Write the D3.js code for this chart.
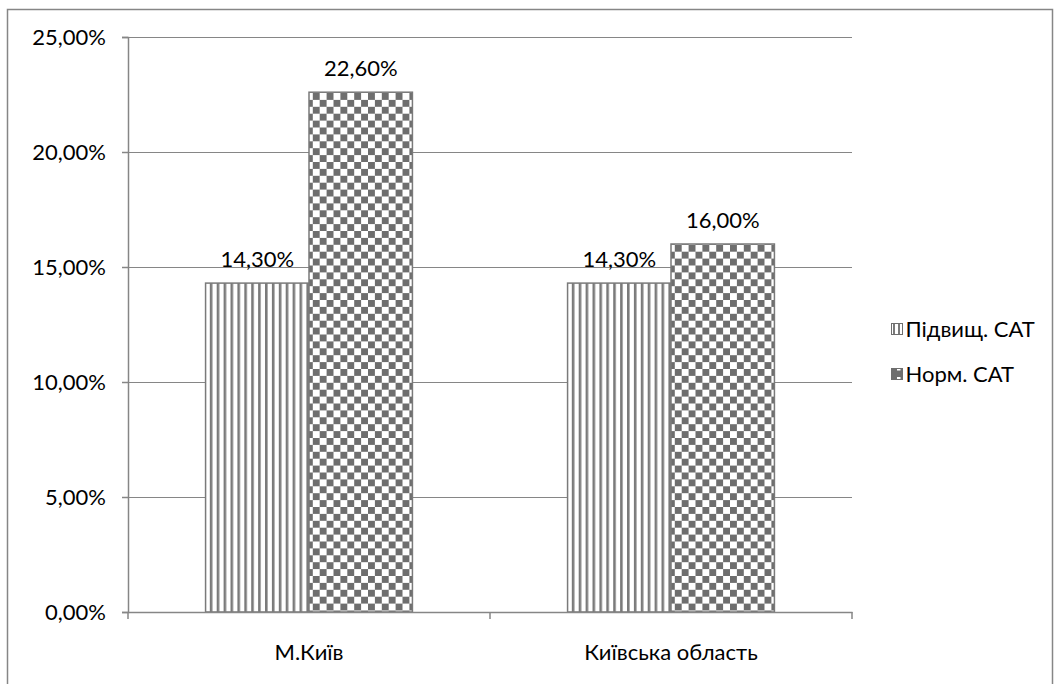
<!DOCTYPE html>
<html>
<head>
<meta charset="utf-8">
<script src="https://cdn.jsdelivr.net/npm/d3@7"></script>
<style>
  html, body { margin: 0; padding: 0; background: #fff; }
  svg { display: block; }
  text { font-family: Lato, "Open Sans", sans-serif; fill: #000; }
</style>
</head>
<body>
<svg id="chart" width="1055" height="684"></svg>
<script>
// Share of patients by blood pressure group, per region
const categories = ["М.Київ", "Київська область"];
const seriesNames = ["Підвищ. САТ", "Норм. САТ"];
const raisedValues = [14.3, 14.3];
const normalValues = [22.6, 16.0];
const yTickValues = [0, 5, 10, 15, 20, 25];

const W = 1055, H = 684;
const plot = { left: 128, right: 852, top: 37, bottom: 612 };
const FONT = 22;
const GRAY = "#868686";

const svg = d3.select("#chart");

// outer chart frame
svg.append("rect")
  .attr("x", 7.5).attr("y", 9.5)
  .attr("width", 1045).attr("height", 720)
  .attr("fill", "#fff").attr("stroke", GRAY).attr("stroke-width", 1.5);

// fill patterns
const defs = svg.append("defs");
const vp = defs.append("pattern").attr("id", "pat-vert")
  .attr("patternUnits", "userSpaceOnUse").attr("width", 6.9).attr("height", 10)
  .attr("x", 206);
vp.append("rect").attr("width", 6.9).attr("height", 10).attr("fill", "#fff");
vp.append("rect").attr("x", 0).attr("width", 2.6).attr("height", 10).attr("fill", "#7a7a7a");

const cp = defs.append("pattern").attr("id", "pat-check")
  .attr("patternUnits", "userSpaceOnUse").attr("width", 13.8).attr("height", 13.8)
  .attr("x", 309).attr("y", 93);
cp.append("rect").attr("width", 13.8).attr("height", 13.8).attr("fill", "#fff");
cp.append("rect").attr("x", 0).attr("y", 0).attr("width", 6.9).attr("height", 6.9).attr("fill", "#6e6e6e");
cp.append("rect").attr("x", 6.9).attr("y", 6.9).attr("width", 6.9).attr("height", 6.9).attr("fill", "#6e6e6e");

// small versions for the legend keys
const vpl = defs.append("pattern").attr("id", "pat-vert-sm")
  .attr("patternUnits", "userSpaceOnUse").attr("width", 5).attr("height", 5).attr("x", 891.5);
vpl.append("rect").attr("width", 5).attr("height", 5).attr("fill", "#fff");
vpl.append("rect").attr("width", 2).attr("height", 5).attr("fill", "#7a7a7a");
const cpl = defs.append("pattern").attr("id", "pat-check-sm")
  .attr("patternUnits", "userSpaceOnUse").attr("width", 11).attr("height", 11).attr("x", 891.5).attr("y", 368.5);
cpl.append("rect").attr("width", 11).attr("height", 11).attr("fill", "#6e6e6e");
cpl.append("rect").attr("x", 5).attr("y", 3).attr("width", 3.5).attr("height", 4.5).attr("fill", "#fff");

const fills = ["url(#pat-vert)", "url(#pat-check)"];
const legendFills = ["url(#pat-vert-sm)", "url(#pat-check-sm)"];

// scales
const x0 = d3.scaleBand().domain(categories).range([plot.left, plot.right]);
const bw = x0.bandwidth();
const barW = bw / 3.5; // 150% gap width
const x1 = d3.scaleBand().domain(seriesNames)
  .range([(bw - 2 * barW) / 2, (bw + 2 * barW) / 2]);
const y = d3.scaleLinear().domain([0, 25]).range([plot.bottom, plot.top]);

const fmt = v => d3.format(".2f")(v).replace(".", ",") + "%";

// gridlines
svg.append("g")
  .attr("transform", `translate(${plot.left},0)`)
  .call(d3.axisLeft(y).tickValues(yTickValues).tickSize(-(plot.right - plot.left)).tickFormat(""))
  .call(g => g.select(".domain").remove())
  .call(g => g.selectAll("line").attr("stroke", GRAY).attr("stroke-width", 1.2));

// bars
const rows = categories.map((c, i) => ({ cat: c, values: [raisedValues[i], normalValues[i]] }));
const groups = svg.append("g").selectAll("g").data(rows).join("g")
  .attr("transform", d => `translate(${x0(d.cat)},0)`);
groups.selectAll("rect")
  .data(d => d.values.map((v, j) => ({ v, s: seriesNames[j], j })))
  .join("rect")
  .attr("x", d => x1(d.s))
  .attr("y", d => y(d.v))
  .attr("width", x1.bandwidth())
  .attr("height", d => y(0) - y(d.v))
  .attr("fill", d => fills[d.j])
  .attr("stroke", "#7a7a7a").attr("stroke-width", 1.5);

// value labels
groups.selectAll("text.val")
  .data(d => d.values.map((v, j) => ({ v, s: seriesNames[j] })))
  .join("text").attr("class", "val")
  .attr("x", d => x1(d.s) + x1.bandwidth() / 2)
  .attr("y", d => y(d.v) - 16)
  .attr("text-anchor", "middle")
  .attr("font-size", FONT)
  .text(d => fmt(d.v));

// y axis
const yAxis = svg.append("g")
  .attr("transform", `translate(${plot.left},0)`)
  .call(d3.axisLeft(y).tickValues(yTickValues).tickSize(6).tickPadding(16).tickFormat(fmt));
yAxis.select(".domain").attr("stroke", GRAY).attr("stroke-width", 1.5);
yAxis.selectAll("line").attr("stroke", GRAY).attr("stroke-width", 1.5);
yAxis.selectAll("text").attr("font-size", FONT).attr("font-family", "Lato, sans-serif").attr("fill", "#000").attr("dy", "0.35em");

// x axis
const xAxis = svg.append("g")
  .attr("transform", `translate(0,${plot.bottom})`)
  .call(d3.axisBottom(x0).tickSize(0).tickPadding(32));
xAxis.select(".domain").attr("stroke", GRAY).attr("stroke-width", 1.5);
xAxis.selectAll("text").attr("font-size", FONT).attr("font-family", "Lato, sans-serif").attr("fill", "#000");
const bounds = [plot.left, ...categories.map(c => x0(c) + bw)];
xAxis.selectAll("line.bound").data(bounds).join("line").attr("class", "bound")
  .attr("x1", d => d).attr("x2", d => d).attr("y1", 0).attr("y2", 7)
  .attr("stroke", GRAY).attr("stroke-width", 1.5);

// legend
const legend = svg.append("g").selectAll("g").data(seriesNames).join("g")
  .attr("transform", (d, i) => `translate(891.5,${323.5 + i * 45})`);
legend.append("rect").attr("width", 11).attr("height", 11)
  .attr("fill", (d, i) => legendFills[i]).attr("stroke", "#6e6e6e").attr("stroke-width", 1);
legend.append("text").attr("x", 14).attr("y", 5.5).attr("dy", "0.35em")
  .attr("font-size", FONT).text(d => d);
</script>
</body>
</html>
